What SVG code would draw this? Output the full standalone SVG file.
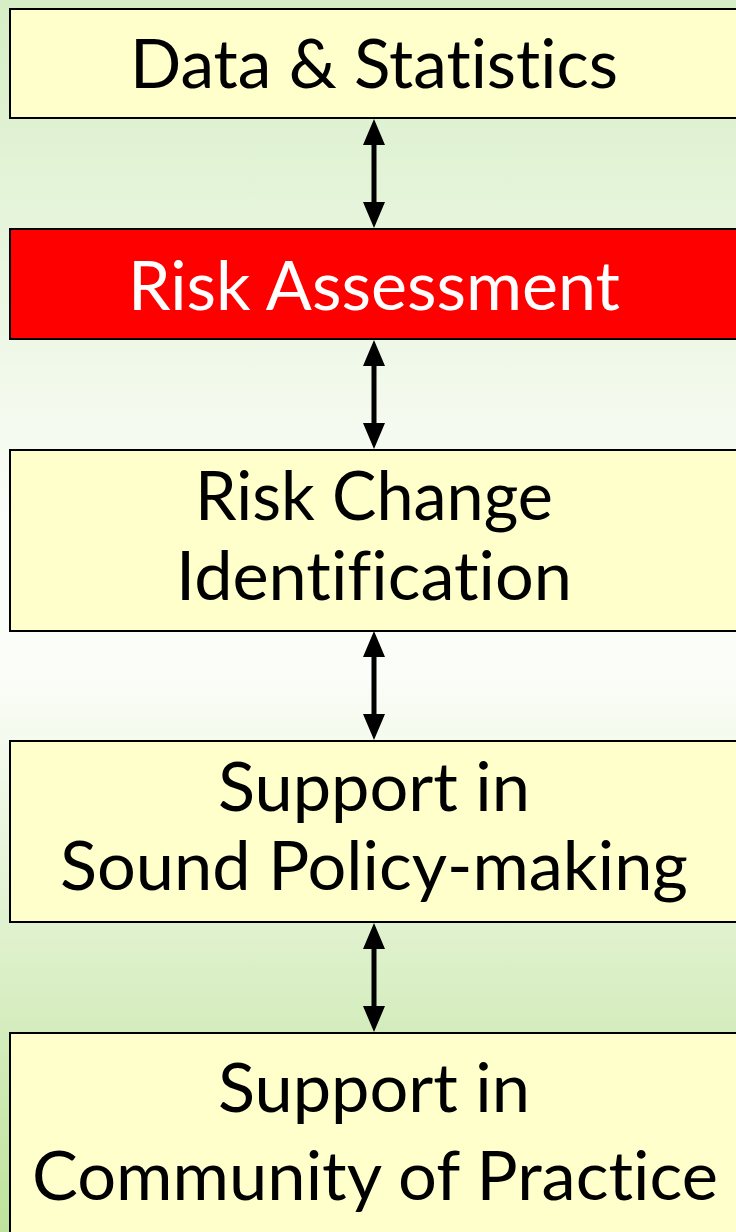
<svg xmlns="http://www.w3.org/2000/svg" width="736" height="1232" viewBox="0 0 736 1232">
<defs>
<linearGradient id="bg" x1="0" y1="0" x2="0" y2="1">
<stop offset="0" stop-color="#d6eec6"/>
<stop offset="0.42" stop-color="#fbfdf8"/>
<stop offset="0.55" stop-color="#fbfdf8"/>
<stop offset="1" stop-color="#bee39b"/>
</linearGradient>
<path id="dbl" d="M0,0 L11,26 L2.5,26 L2.5,83 L11,83 L0,109 L-11,83 L-2.5,83 L-2.5,26 L-11,26 Z"/>
<style>
.box{fill:#ffffcc;stroke:#000;stroke-width:2}
.red{fill:#ff0000;stroke:#000;stroke-width:2}
.t{font-family:Lato,"Open Sans",sans-serif;font-size:67px;fill:#000;text-anchor:middle;font-variant-ligatures:none;font-feature-settings:"liga" 0}
.w{fill:#fff}
.c{fill:#000}
</style>
</defs>
<rect x="0" y="0" width="736" height="1232" fill="url(#bg)"/>
<g id="connectors">
<use class="c" href="#dbl" x="374" y="119"/>
<use class="c" href="#dbl" x="374" y="340"/>
<use class="c" href="#dbl" x="374" y="631"/>
<use class="c" href="#dbl" x="374" y="923"/>
</g>
<g id="n1">
<rect class="box" x="10" y="9" width="740" height="109"/>
<text class="t" x="374" y="88" textLength="488" lengthAdjust="spacingAndGlyphs">Data &amp; Statistics</text>
</g>
<g id="n2">
<rect class="red" x="10" y="229" width="740" height="110"/>
<text class="t w" x="374" y="310" textLength="492" lengthAdjust="spacingAndGlyphs">Risk Assessment</text>
</g>
<g id="n3">
<rect class="box" x="10" y="450" width="740" height="181"/>
<text class="t" x="374" y="520" textLength="358" lengthAdjust="spacingAndGlyphs">Risk Change</text>
<text class="t" x="374" y="600" textLength="396" lengthAdjust="spacingAndGlyphs">Identification</text>
</g>
<g id="n4">
<rect class="box" x="10" y="741" width="740" height="181"/>
<text class="t" x="374" y="811" textLength="312" lengthAdjust="spacingAndGlyphs">Support in</text>
<text class="t" x="374" y="890" textLength="628" lengthAdjust="spacingAndGlyphs">Sound Policy-making</text>
</g>
<g id="n5">
<rect class="box" x="10" y="1033" width="740" height="220"/>
<text class="t" x="374" y="1112" textLength="312" lengthAdjust="spacingAndGlyphs">Support in</text>
<text class="t" x="375" y="1200" textLength="686" lengthAdjust="spacingAndGlyphs">Community of Practice</text>
</g>
</svg>
